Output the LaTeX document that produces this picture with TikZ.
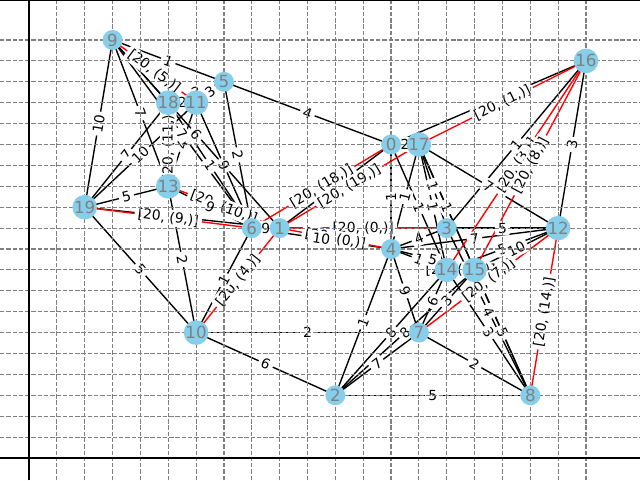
\documentclass[tikz,border=0pt]{standalone}
\usepackage{fontspec}
\setmainfont{DejaVu Sans}
\pgfdeclarelayer{edgel}
\pgfdeclarelayer{lbl}
\pgfdeclarelayer{gridl}
\pgfdeclarelayer{topl}
\pgfsetlayers{edgel,lbl,gridl,main,topl}
\definecolor{skyblue}{HTML}{87CEEB}
\definecolor{gridgray}{HTML}{808080}
\begin{document}
\begin{tikzpicture}[x=20.8875pt,y=15.675pt,
  vert/.style={circle,fill=skyblue,minimum size=15pt,inner sep=0pt,text=gridgray,font=\fontsize{12.5}{12.5}\selectfont},
  bedge/.style={black,line width=1.04pt},
  redge/.style={red,line width=1.04pt},
  elab/.style={sloped,fill=white,rounded corners=2pt,inner xsep=2.4pt,inner ysep=1.6pt,font=\fontsize{10.4}{10.4}\selectfont,text=black},
  gline/.style={gridgray,line width=0.83pt,dash pattern=on 3.3pt off 1.4pt},
  spine/.style={black,line width=2.2pt}]
\useasboundingbox (-1.0413,-1.0526) rectangle (21.939,21.914);
% nodes
\foreach \n/\i/\j in {0/13/15,1/9/11,2/11/3,3/15/11,4/13/10,5/7/18,6/8/11,7/14/6,8/18/3,9/3/20,10/6/6,11/6/17,12/19/11,13/5/13,14/15/9,15/16/9,16/20/19,17/14/15,18/5/17,19/2/12}
  \node[vert] (n\n) at (\i,\j) {\n};
% edges
\begin{pgfonlayer}{edgel}
\foreach \a/\b in {9/5,5/0,9/19,9/13,18/11,18/5,11/5,19/18,19/11,19/13,19/10,13/10,13/11,9/6,9/1,18/6,11/6,5/6,6/1,13/6,10/6,10/7,10/2,2/8,2/4,2/7,2/14,2/15,7/8,4/7,3/8,14/8,15/8,16/12,3/16,0/17,17/12,3/12,4/12,14/12,15/12,6/4,4/3,4/0,4/17,17/3,17/14,17/15,7/14,7/15,4/14,4/15,0/14,9/18,19/1,0/16,1/0,17/8}
  \draw[bedge] (n\a.center) -- (n\b.center);
\foreach \a/\b in {9/11,13/18,13/1,19/6,6/0,1/17,17/16,1/3,1/4,10/1,14/16,15/16,14/15,7/12,8/12}
  \draw[redge] (n\a.center) -- (n\b.center);
\end{pgfonlayer}
% labels
\begin{pgfonlayer}{lbl}
\path (n9.center) -- node[elab] {[20, (5,)]} (n11.center);
\path (n13.center) -- node[elab] {[20, (11,)]} (n18.center);
\path (n13.center) -- node[elab] {[20, (10,)]} (n1.center);
\path (n19.center) -- node[elab] {[20, (9,)]} (n6.center);
\path (n6.center) -- node[elab] {[20, (18,)]} (n0.center);
\path (n1.center) -- node[elab] {[20, (19,)]} (n17.center);
\path (n17.center) -- node[elab] {[20, (1,)]} (n16.center);
\path (n1.center) -- node[elab] {[20, (0,)]} (n3.center);
\path (n1.center) -- node[elab] {[20, (0,)]} (n4.center);
\path (n10.center) -- node[elab] {[20, (4,)]} (n1.center);
\path (n14.center) -- node[elab] {[20, (3,)]} (n16.center);
\path (n15.center) -- node[elab] {[20, (8,)]} (n16.center);
\path (n14.center) -- node[elab] {[20, (12,)]} (n15.center);
\path (n7.center) -- node[elab] {[20, (7,)]} (n12.center);
\path (n8.center) -- node[elab] {[20, (14,)]} (n12.center);
\foreach \a/\b/\t in {9/5/1,5/0/4,9/19/10,9/13/7,18/11/2,18/5/3,11/5/3,19/18/7,19/11/10,19/13/5,19/10/5,13/10/2,13/11/4,9/6/7,9/1/6,18/6/1,11/6/9,5/6/2,6/1/9,13/6/9,10/6/1,10/7/2,10/2/6,2/8/5,2/4/1,2/7/7,2/14/8,2/15/8,7/8/2,4/7/9,3/8/4,14/8/3,15/8/5,16/12/3,3/16/1,0/17/2,17/12/7,3/12/5,4/12/7,14/12/5,15/12/10,6/4/10,4/3/4,4/0/1,4/17/1,17/3/1,17/14/1,17/15/1,7/14/6,7/15/3,4/14/1,4/15/5,0/14/1}
  \path (n\a.center) -- node[elab] {\t} (n\b.center);
\end{pgfonlayer}
% grid
\begin{pgfonlayer}{gridl}
\foreach \i in {0,...,20} \draw[gline] (\i,-1.0526) -- (\i,21.914);
\foreach \j in {0,...,20} \draw[gline] (-1.0413,\j) -- (21.939,\j);
\end{pgfonlayer}
% spines
\begin{pgfonlayer}{topl}
\coordinate (sbl) at (-1.0413,0);
\coordinate (sbr) at (21.939,0);
\coordinate (slb) at (0,-1.0526);
\coordinate (slt) at (0,21.914);
\coordinate (stl) at (-1.0413,21.914);
\coordinate (str) at (21.939,21.914);
\draw[spine] (sbl) -- (sbr);
\draw[spine] (slb) -- (slt);
\draw[spine] (stl) -- (str);
\end{pgfonlayer}
\end{tikzpicture}
\end{document}
